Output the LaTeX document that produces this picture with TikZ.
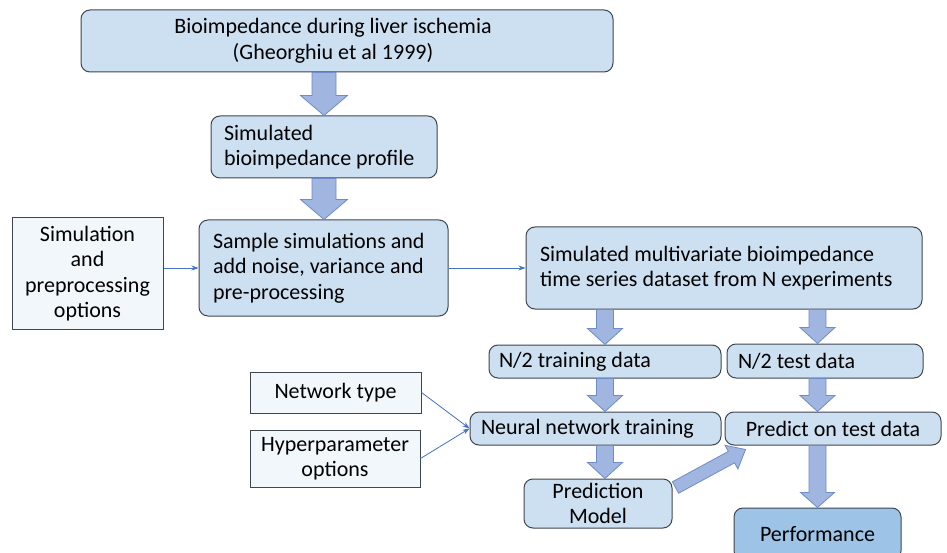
\documentclass[tikz,border=0pt]{standalone}
\usepackage{fontspec}
\setmainfont{Carlito}
\usetikzlibrary{arrows.meta,calc}
\definecolor{boxc}{RGB}{205,224,242}
\definecolor{optc}{RGB}{242,247,252}
\definecolor{perfc}{RGB}{157,195,230}
\definecolor{bordc}{RGB}{64,70,80}
\definecolor{arrf}{RGB}{160,181,224}
\definecolor{arrd}{RGB}{110,140,200}
\definecolor{thinc}{RGB}{68,114,196}
\newcommand\fatarr[5]{% from, to, shaft half, head half, head length
  \path ($(#2)!#5!(#1)$) coordinate (fh);
  \draw[fatarrow] ($(#1)!#3!90:(#2)$) -- ($(fh)!#3!90:(#2)$) -- ($(fh)!#4!90:(#2)$) -- (#2)
    -- ($(fh)!#4!-90:(#2)$) -- ($(fh)!#3!-90:(#2)$) -- ($(#1)!#3!-90:(#2)$) -- cycle;}
\begin{document}
\begin{tikzpicture}[x=1pt,y=-1pt,
  every node/.style={font=\fontsize{22}{25.5}\selectfont, inner sep=0pt},
  box/.style={draw=bordc, fill=boxc, rounded corners=9pt, line width=1pt},
  optbox/.style={draw=bordc, fill=optc, line width=1pt, align=center},
  lbox/.style n args={3}{box, minimum width=#1, minimum height=#2, text width=#1-2*#3, inner xsep=#3, align=flush left},
  cbox/.style n args={2}{box, minimum width=#1, minimum height=#2, align=center},
  fatarrow/.style={draw=arrd, fill=arrf, line width=0.8pt, line join=miter},
  thin/.style={draw=thinc, line width=0.8pt, -{Stealth[length=7pt,width=5pt]}}]
\useasboundingbox[fill=white] (0,0) rectangle (947,553);
\clip (0,0) rectangle (947,553);
\node[cbox={532pt}{62pt}] (top) at (347,41) {Bioimpedance during liver ischemia\hspace*{28pt}\\(Gheorghiu et al 1999)\hspace*{28pt}};
\node[lbox={226pt}{62pt}{13pt}] (sim) at (324,147) {Simulated\\bioimpedance profile};
\node[lbox={249pt}{96pt}{14pt}] (sample) at (323.5,268) {Sample simulations and\\add noise, variance and\\pre-processing};
\node[optbox, minimum width=151pt, minimum height=111pt] (opts) at (87.5,273.5) {Simulation\\and\\preprocessing\\options};
\node[lbox={396pt}{82pt}{14pt}] (data) at (724,268) {Simulated multivariate bioimpedance\\time series dataset from N experiments};
\node[lbox={232pt}{33pt}{10pt}] (train) at (605,361.5) {N/2 training data};
\node[lbox={196pt}{34pt}{11pt}] (test) at (825,361) {N/2 test data};
\node[lbox={251pt}{33pt}{11pt}] (nn) at (595.5,428.5) {Neural network training};
\node[cbox={216pt}{33pt}] (pred) at (833,428.5) {Predict on test data};
\node[cbox={148pt}{49pt}] (pm) at (598,503.5) {Prediction\\Model};
\node[optbox, minimum width=171pt, minimum height=41pt] (nt) at (335.5,392.5) {Network type};
\node[optbox, minimum width=170pt, minimum height=57pt] (hp) at (335,458.5) {Hyperparameter\\options};
\node[cbox={167pt}{52pt}, fill=perfc] (perf) at (817.5,534) {Performance};
% fat arrows
\coordinate (a1s) at (sim.north |- top.south);
\fatarr{a1s}{sim.north}{12pt}{23.5pt}{20pt}
\coordinate (a2e) at (sim.south |- sample.north);
\fatarr{sim.south}{a2e}{12pt}{23.5pt}{20pt}
\coordinate (a3s) at (train.north |- data.south);
\fatarr{a3s}{train.north}{8.5pt}{17.5pt}{16pt}
\coordinate (a4s) at (perf.north |- data.south);
\coordinate (a4e) at (perf.north |- test.north);
\fatarr{a4s}{a4e}{8.5pt}{17.5pt}{16pt}
\coordinate (a5e) at (train.south |- nn.north);
\fatarr{train.south}{a5e}{8.5pt}{17.5pt}{16pt}
\coordinate (a6s) at (perf.north |- test.south);
\coordinate (a6e) at (perf.north |- pred.north);
\fatarr{a6s}{a6e}{8.5pt}{17.5pt}{16pt}
\coordinate (a7s) at (train.south |- nn.south);
\coordinate (a7e) at (train.south |- pm.north);
\fatarr{a7s}{a7e}{8.5pt}{17.5pt}{16pt}
\coordinate (a8s) at (perf.north |- pred.south);
\fatarr{a8s}{perf.north}{8.5pt}{17pt}{15pt}
\coordinate (a9s) at ($(pm.north east)+(3,9)$);
\coordinate (a9e) at ($(pred.south west)+(21,4)$);
\fatarr{a9s}{a9e}{6.5pt}{13.5pt}{16pt}
% thin arrows
\draw[thin] (opts.east |- sample.west) -- (sample.west);
\draw[thin] (sample.east) -- (data.west);
\draw[thin] (nt.east) -- (nn.west);
\draw[thin] (hp.east) -- (nn.west);
\end{tikzpicture}
\end{document}
